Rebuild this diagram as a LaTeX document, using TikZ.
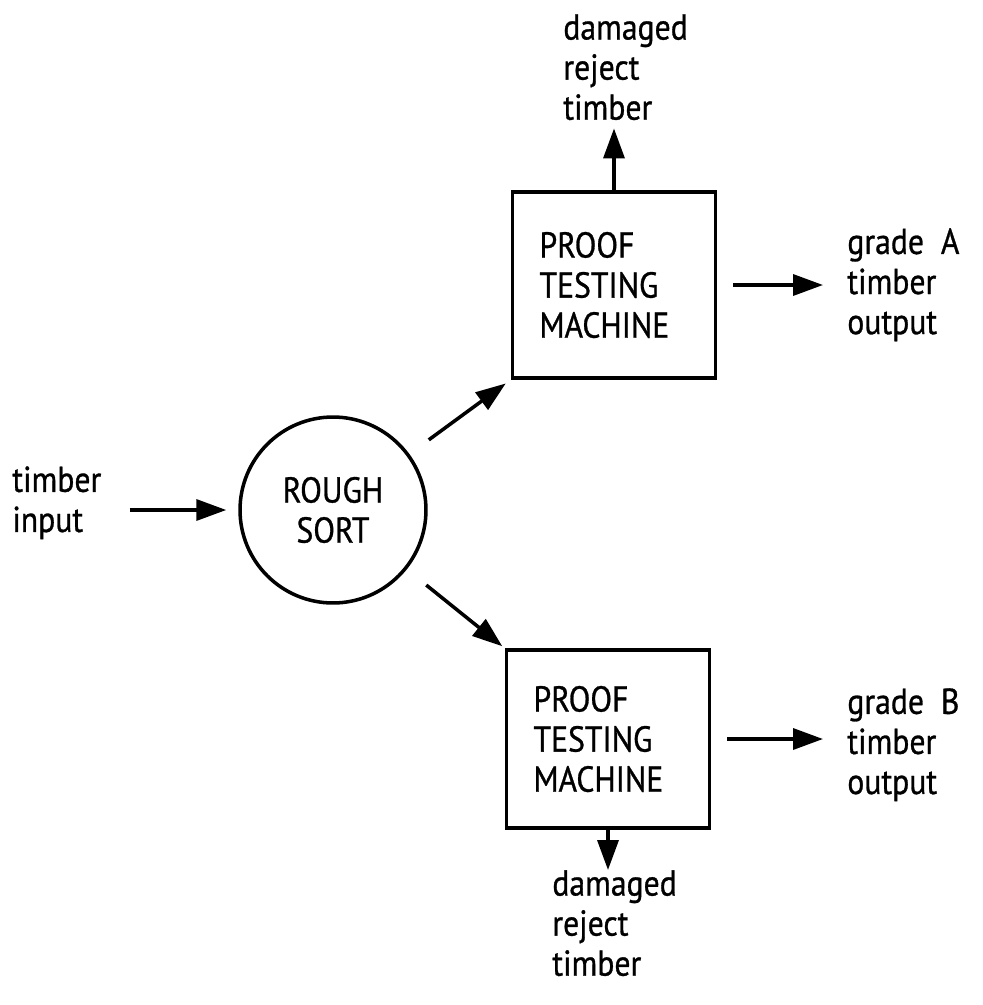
\documentclass[tikz,border=0pt]{standalone}
\usepackage{fontspec}
\setmainfont[FakeStretch=0.88,FakeBold=0.8]{PT Sans}
\usetikzlibrary{arrows.meta,positioning}

\begin{document}
\begin{tikzpicture}[x=0.02cm,y=-0.02cm,
    font=\fontsize{20.5}{22.8}\selectfont,
    lbl/.style={inner sep=0pt,align=left,anchor=north west},
    machine/.style={draw,line width=2.2pt,align=left,inner xsep=0.54cm,
      text width=2.98cm,minimum height=3.72cm},
    arr/.style={line width=2pt,-{Triangle[length=0.6cm,width=0.42cm]}}]
  \useasboundingbox (0,0) rectangle (983,1005);

  % the sorting stage and the two test rigs
  \node[draw,circle,line width=2pt,minimum size=3.72cm,align=center] (sort) at (333,510) {ROUGH\\SORT};
  \node[machine] (boxA) at (614,285) {PROOF\\TESTING\\MACHINE};
  \node[machine,minimum height=3.56cm] (boxB) at (608,739) {PROOF\\TESTING\\MACHINE};

  % labels
  \node[lbl] (inp) at (12,466) {timber\\input};
  \node[lbl] (rejA) at (563,14) {damaged\\reject\\timber};
  \node[lbl] (outA) at (847,228) {grade\ \ A\\timber\\output};
  \node[lbl] (outB) at (847,688) {grade\ \ B\\timber\\output};
  \node[lbl] (rejB) at (552,870) {damaged\\reject\\timber};

  % flow
  \draw[arr,shorten <=0.56cm,shorten >=0.24cm] (inp.east |- sort.west) -- (sort.west);
  \draw[arr,shorten <=0.48cm,shorten >=0.12cm] (sort) -- (boxA.south west);
  \draw[arr,shorten <=0.5cm,shorten >=0.06cm] (sort) -- (boxB.north west);
  \draw[arr,shorten <=0.32cm,shorten >=0.48cm] (boxA.east) -- (boxA.east -| outA.west);
  \draw[arr,shorten <=0.32cm,shorten >=0.48cm] (boxB.east) -- (boxB.east -| outB.west);
  \draw[arr,shorten >=0.16cm] (boxA.north) -- (boxA.north |- rejA.south);
  \draw[arr] (boxB.south) -- (boxB.south |- rejB.north);
\end{tikzpicture}
\end{document}
